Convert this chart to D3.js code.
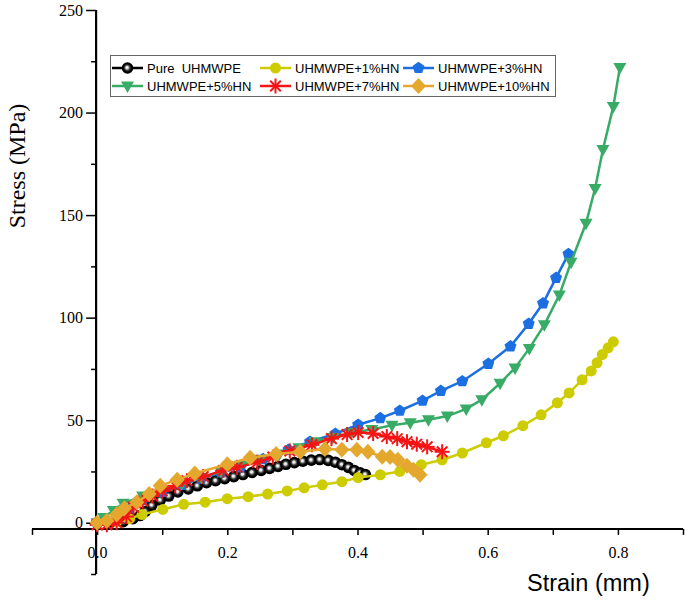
<!DOCTYPE html>
<html><head><meta charset="utf-8">
<script src="https://cdn.jsdelivr.net/npm/d3@7"></script>
<style>body{margin:0;background:#fff}svg{display:block}</style>
</head><body><svg id="c" width="685" height="602"></svg>
<script>
// ---- data ----
const seriesNames = ["Pure  UHMWPE","UHMWPE+1%HN","UHMWPE+3%HN","UHMWPE+5%HN","UHMWPE+7%HN","UHMWPE+10%HN"];
const pureUHMWPE = [[0,0],[0.02,0],[0.04,0.5],[0.055,2],[0.066,3.5],[0.074,5.5],[0.084,8.5],[0.097,11],[0.11,13],[0.124,15],[0.14,16.5],[0.154,18],[0.168,19.5],[0.182,20.5],[0.196,21.5],[0.21,22.5],[0.224,23.5],[0.238,24.5],[0.252,25.5],[0.265,26.5],[0.278,27.5],[0.29,28.5],[0.303,29.3],[0.316,30],[0.329,30.5],[0.342,30.8],[0.355,30.4],[0.366,29.5],[0.376,28.3],[0.386,27],[0.395,25.5],[0.404,24.3],[0.412,23.5]];
const hn1 = [[0,0],[0.03,0.5],[0.05,2],[0.069,4],[0.101,6.5],[0.133,9],[0.166,10],[0.2,11.7],[0.232,12.7],[0.262,14],[0.292,15.5],[0.318,17],[0.346,18.5],[0.376,20],[0.401,22],[0.435,23.4],[0.465,25],[0.498,28.3],[0.53,30.7],[0.561,34],[0.598,39],[0.624,42.4],[0.654,47.3],[0.682,52.6],[0.707,58.5],[0.725,63.3],[0.745,69.7],[0.759,74],[0.768,78],[0.776,82],[0.785,85.3],[0.793,88.2]];
const hn3 = [[0,0],[0.01,1],[0.03,3.5],[0.05,7],[0.07,11],[0.1,15],[0.13,18.5],[0.16,21.5],[0.19,24.5],[0.22,27],[0.255,31],[0.294,35.6],[0.327,39.5],[0.366,43.4],[0.401,47.8],[0.435,51],[0.465,54.6],[0.5,59.5],[0.528,64.3],[0.561,69],[0.601,77.5],[0.635,86],[0.663,97],[0.685,107],[0.705,119.4],[0.724,131]];
const hn5 = [[0,0],[0.01,2.5],[0.025,6],[0.04,9.5],[0.07,13],[0.1,16],[0.13,19],[0.16,22],[0.19,25],[0.22,28],[0.25,31],[0.28,33.5],[0.31,36.5],[0.335,39.5],[0.362,41.5],[0.39,43.9],[0.422,45.5],[0.453,47.5],[0.481,48.7],[0.509,50.2],[0.538,52],[0.567,55.5],[0.591,60],[0.619,68],[0.642,75.5],[0.664,85],[0.687,96.5],[0.71,111],[0.728,127],[0.751,146],[0.765,163],[0.777,182],[0.793,203],[0.803,222]];
const hn7 = [[0,-1],[0.015,-1],[0.03,0],[0.045,3],[0.056,7.5],[0.07,10.5],[0.085,13],[0.1,15.5],[0.12,18],[0.138,20.5],[0.163,22.5],[0.194,25.5],[0.215,27],[0.246,29.5],[0.27,32],[0.296,35],[0.33,38],[0.36,41],[0.384,43],[0.401,44],[0.424,43.5],[0.445,42],[0.461,41],[0.476,39.5],[0.491,38.3],[0.507,37],[0.53,34.6]];
const hn10 = [[0,0],[0.015,1],[0.03,4],[0.042,7],[0.061,10],[0.08,14],[0.097,18],[0.123,21],[0.15,24],[0.2,28.5],[0.235,31.7],[0.275,33.5],[0.312,34.6],[0.35,36],[0.376,35.6],[0.399,35.6],[0.416,34.6],[0.438,32.2],[0.45,32],[0.462,30.7],[0.476,27.8],[0.486,25.8],[0.496,23.4]];
const xMajorTicks = [0,0.2,0.4,0.6,0.8];
const xTickLabels = ["0.0","0.2","0.4","0.6","0.8"];
const xMinorTicks = [-0.1,0.1,0.3,0.5,0.7,0.9];
const yMajorTicks = [0,50,100,150,200,250];
const yMinorTicks = [-25,25,75,125,175,225];

const colors = ["#000000","#cccc00","#1c6fe0","#38ab67","#f51414","#e5a82e"];
const markerTypes = ["bead","circle","pentagon","triangle","star","diamond"];
const allSeries = [pureUHMWPE,hn1,hn3,hn5,hn7,hn10];

// ---- drawing ----
const svg = d3.select("#c");
const x = d3.scaleLinear().domain([-0.1,0.9]).range([32,683]);
const y = d3.scaleLinear().domain([-25,250]).range([574,10]);
const xAxisY = y(-3);

const defs = svg.append("defs");
const g = defs.append("radialGradient").attr("id","bead").attr("cx","0.5").attr("cy","0.5").attr("r","0.5").attr("fx","0.45").attr("fy","0.45");
g.append("stop").attr("offset","0").attr("stop-color","#ffffff");
g.append("stop").attr("offset","0.2").attr("stop-color","#e0e0e0");
g.append("stop").attr("offset","0.45").attr("stop-color","#444");
g.append("stop").attr("offset","0.7").attr("stop-color","#000");
g.append("stop").attr("offset","1").attr("stop-color","#000");

function markerPath(type){
  if(type==="pentagon"){const r=6.3;return d3.range(5).map(k=>{const a=-Math.PI/2+k*2*Math.PI/5;return [r*Math.cos(a),r*Math.sin(a)];});}
  if(type==="triangle"){return [[-6.5,-4.5],[6.5,-4.5],[0,7]];}
  if(type==="diamond"){return [[0,-8],[7.5,0],[0,8],[-7.5,0]];}
  return null;
}
function drawMarker(sel,type,color){
  if(type==="bead"){sel.append("circle").attr("r",5.8).attr("fill","url(#bead)");}
  else if(type==="circle"){sel.append("circle").attr("r",5.5).attr("fill",color);}
  else if(type==="star"){
    const r=7.5;
    [0,45,90,135].forEach(a=>{const t=a*Math.PI/180;sel.append("line").attr("x1",-r*Math.cos(t)).attr("y1",-r*Math.sin(t)).attr("x2",r*Math.cos(t)).attr("y2",r*Math.sin(t)).attr("stroke",color).attr("stroke-width",2);});
  } else {
    sel.append("path").attr("d","M"+markerPath(type).join("L")+"Z").attr("fill",color);
  }
}

// x axis
const xa = svg.append("g").attr("transform",`translate(0,${xAxisY})`);
xa.call(d3.axisBottom(x).tickValues(xMajorTicks).tickSize(6).tickPadding(12).tickFormat((d,i)=>xTickLabels[i]));
xa.append("g").call(d3.axisBottom(x).tickValues(xMinorTicks).tickSize(6).tickFormat(""));
xa.selectAll(".domain").attr("d",`M${x(-0.1)},0H${x(0.9)}`).attr("stroke-width",2);
xa.selectAll("line").attr("stroke-width",1.5);
xa.selectAll("text").attr("font-family","'Liberation Serif','Times New Roman',serif").attr("font-size",16).attr("fill","#000");
// y axis
const ya = svg.append("g").attr("transform",`translate(${x(0)-1},0)`);
ya.call(d3.axisLeft(y).tickValues(yMajorTicks).tickSize(10).tickPadding(3));
ya.append("g").call(d3.axisLeft(y).tickValues(yMinorTicks).tickSize(5).tickFormat(""));
ya.selectAll(".domain").attr("d",`M0,${y(-25)}V${y(250)}`).attr("stroke-width",2);
ya.selectAll("line").attr("stroke-width",1.5);
ya.selectAll("text").attr("font-family","'Liberation Serif','Times New Roman',serif").attr("font-size",16).attr("fill","#000");

// series
const line = d3.line().x(d=>x(d[0])).y(d=>y(d[1]));
allSeries.forEach((data,i)=>{
  const sg = svg.append("g");
  sg.append("path").attr("d",line(data)).attr("fill","none").attr("stroke",colors[i]).attr("stroke-width",2.5);
  data.forEach(d=>{
    const m = sg.append("g").attr("transform",`translate(${x(d[0])},${y(d[1])})`);
    drawMarker(m,markerTypes[i],colors[i]);
  });
});

// legend
const lg = svg.append("g");
lg.append("rect").attr("x",110.5).attr("y",55.5).attr("width",445).attr("height",41).attr("fill","#fff").attr("stroke","#666").attr("stroke-width",1);
const colX = [112,260,403];
const rowY = [68,86];
seriesNames.forEach((name,i)=>{
  const cx = colX[i%3], cy = rowY[Math.floor(i/3)];
  lg.append("line").attr("x1",cx).attr("x2",cx+31).attr("y1",cy).attr("y2",cy).attr("stroke",colors[i]).attr("stroke-width",2.5);
  const m = lg.append("g").attr("transform",`translate(${cx+15.5},${cy})`);
  drawMarker(m,markerTypes[i],colors[i]);
  lg.append("text").attr("x",cx+35).attr("y",cy+4.5).attr("font-family","'Liberation Sans',Arial,sans-serif").attr("font-size",13).attr("fill","#000").style("white-space","pre").text(name);
});

// axis titles
svg.append("text").attr("x",527).attr("y",591).attr("font-family","'Liberation Sans',Arial,sans-serif").attr("font-size",23.5).attr("fill","#000").text("Strain (mm)");
svg.append("text").attr("transform","translate(25,166) rotate(-90)").attr("text-anchor","middle").attr("font-family","'Liberation Serif','Times New Roman',serif").attr("font-size",24).attr("fill","#000").text("Stress (MPa)");
</script></body></html>
